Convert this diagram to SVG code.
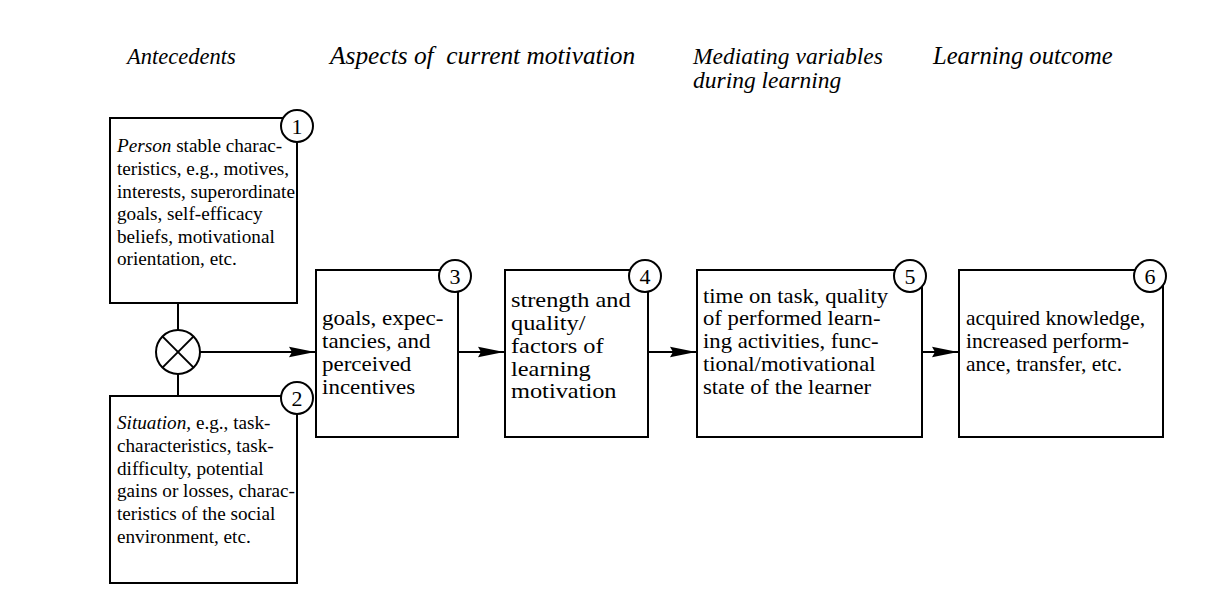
<svg xmlns="http://www.w3.org/2000/svg" width="1230" height="604" viewBox="0 0 1230 604">
<style>
.hd{font-family:"Liberation Serif",serif;font-style:italic;fill:#000}
.tx{font-family:"Liberation Serif",serif;fill:#000}
.t12{font-size:19.2px}
.t36{font-size:21px}
.num{font-family:"Liberation Serif",serif;font-size:22px;fill:#000;text-anchor:middle}
.bx{fill:#fff;stroke:#000;stroke-width:2}
.cc{fill:#fff;stroke:#000;stroke-width:2}
.ln{stroke:#000;stroke-width:2;fill:none}
</style>
<defs>
<marker id="ah" markerUnits="userSpaceOnUse" markerWidth="28" markerHeight="12" refX="26" refY="6" orient="auto">
<path d="M0,0.8 L26,6 L0,11.2 L3,6 z" fill="#000"/>
</marker>
</defs>
<rect width="1230" height="604" fill="#fff"/>
<g id="headers">
<text class="hd" x="127" y="64" font-size="22.5">Antecedents</text>
<text class="hd" x="330" y="64" font-size="25.4" xml:space="preserve">Aspects of  current motivation</text>
<text class="hd" x="693" y="64" font-size="23.5">Mediating variables</text>
<text class="hd" x="693" y="88" font-size="23.5">during learning</text>
<text class="hd" x="933" y="64" font-size="24.6">Learning outcome</text>
</g>
<g id="connectors">
<line class="ln" x1="178" y1="303" x2="178" y2="330"/>
<line class="ln" x1="178" y1="374" x2="178" y2="396"/>
<line class="ln" x1="200" y1="352" x2="315" y2="352" marker-end="url(#ah)"/>
<line class="ln" x1="458" y1="352" x2="504" y2="352" marker-end="url(#ah)"/>
<line class="ln" x1="648" y1="352" x2="696" y2="352" marker-end="url(#ah)"/>
<line class="ln" x1="922" y1="352" x2="958" y2="352" marker-end="url(#ah)"/>
</g>
<g id="node1">
<rect class="bx" x="110" y="118" width="187" height="185"/>
<circle class="cc" cx="297" cy="126" r="16"/>
<text class="num" x="297" y="134">1</text>
<text class="tx t12" x="117" y="152"><tspan font-style="italic">Person</tspan> stable charac-</text>
<text class="tx t12" x="117" y="175">teristics, e.g., motives,</text>
<text class="tx t12" x="117" y="198">interests, superordinate</text>
<text class="tx t12" x="117" y="220">goals, self-efficacy</text>
<text class="tx t12" x="117" y="243">beliefs, motivational</text>
<text class="tx t12" x="117" y="265">orientation, etc.</text>
</g>
<g id="combine">
<circle class="cc" cx="178" cy="352" r="22"/>
<line class="ln" x1="162.4" y1="336.4" x2="193.6" y2="367.6"/>
<line class="ln" x1="193.6" y1="336.4" x2="162.4" y2="367.6"/>
</g>
<g id="node2">
<rect class="bx" x="110" y="396" width="187" height="187"/>
<circle class="cc" cx="297" cy="398" r="16"/>
<text class="num" x="297" y="406">2</text>
<text class="tx t12" x="117" y="429"><tspan font-style="italic">Situation,</tspan> e.g., task-</text>
<text class="tx t12" x="117" y="452">characteristics, task-</text>
<text class="tx t12" x="117" y="475">difficulty, potential</text>
<text class="tx t12" x="117" y="497">gains or losses, charac-</text>
<text class="tx t12" x="117" y="520">teristics of the social</text>
<text class="tx t12" x="117" y="543">environment, etc.</text>
</g>
<g id="node3">
<rect class="bx" x="316" y="270" width="142" height="167"/>
<circle class="cc" cx="455" cy="276" r="16"/>
<text class="num" x="455" y="284">3</text>
<g transform="translate(322,0) scale(1.095,1)">
<text class="tx t36" x="0" y="325.5">goals, expec-</text>
<text class="tx t36" x="0" y="348.2">tancies, and</text>
<text class="tx t36" x="0" y="370.9">perceived</text>
<text class="tx t36" x="0" y="393.6">incentives</text>
</g>
</g>
<g id="node4">
<rect class="bx" x="505" y="270" width="143" height="167"/>
<circle class="cc" cx="645" cy="276" r="16"/>
<text class="num" x="645" y="284">4</text>
<g transform="translate(511,0) scale(1.16,1)">
<text class="tx t36" x="0" y="307.5">strength and</text>
<text class="tx t36" x="0" y="330.2">quality/</text>
<text class="tx t36" x="0" y="352.9">factors of</text>
<text class="tx t36" x="0" y="375.6">learning</text>
<text class="tx t36" x="0" y="398.3">motivation</text>
</g>
</g>
<g id="node5">
<rect class="bx" x="697" y="270" width="225" height="167"/>
<circle class="cc" cx="910" cy="276" r="16"/>
<text class="num" x="910" y="284">5</text>
<g transform="translate(703,0) scale(1.08,1)">
<text class="tx t36" x="0" y="302.8">time on task, quality</text>
<text class="tx t36" x="0" y="325.5">of performed learn-</text>
<text class="tx t36" x="0" y="348.2">ing activities, func-</text>
<text class="tx t36" x="0" y="370.9">tional/motivational</text>
<text class="tx t36" x="0" y="393.6">state of the learner</text>
</g>
</g>
<g id="node6">
<rect class="bx" x="959" y="270" width="204" height="167"/>
<circle class="cc" cx="1150" cy="276" r="16"/>
<text class="num" x="1150" y="284">6</text>
<g transform="translate(966,0) scale(1.024,1)">
<text class="tx t36" x="0" y="325.5">acquired knowledge,</text>
<text class="tx t36" x="0" y="348.2">increased perform-</text>
<text class="tx t36" x="0" y="370.9">ance, transfer, etc.</text>
</g>
</g>
</svg>
